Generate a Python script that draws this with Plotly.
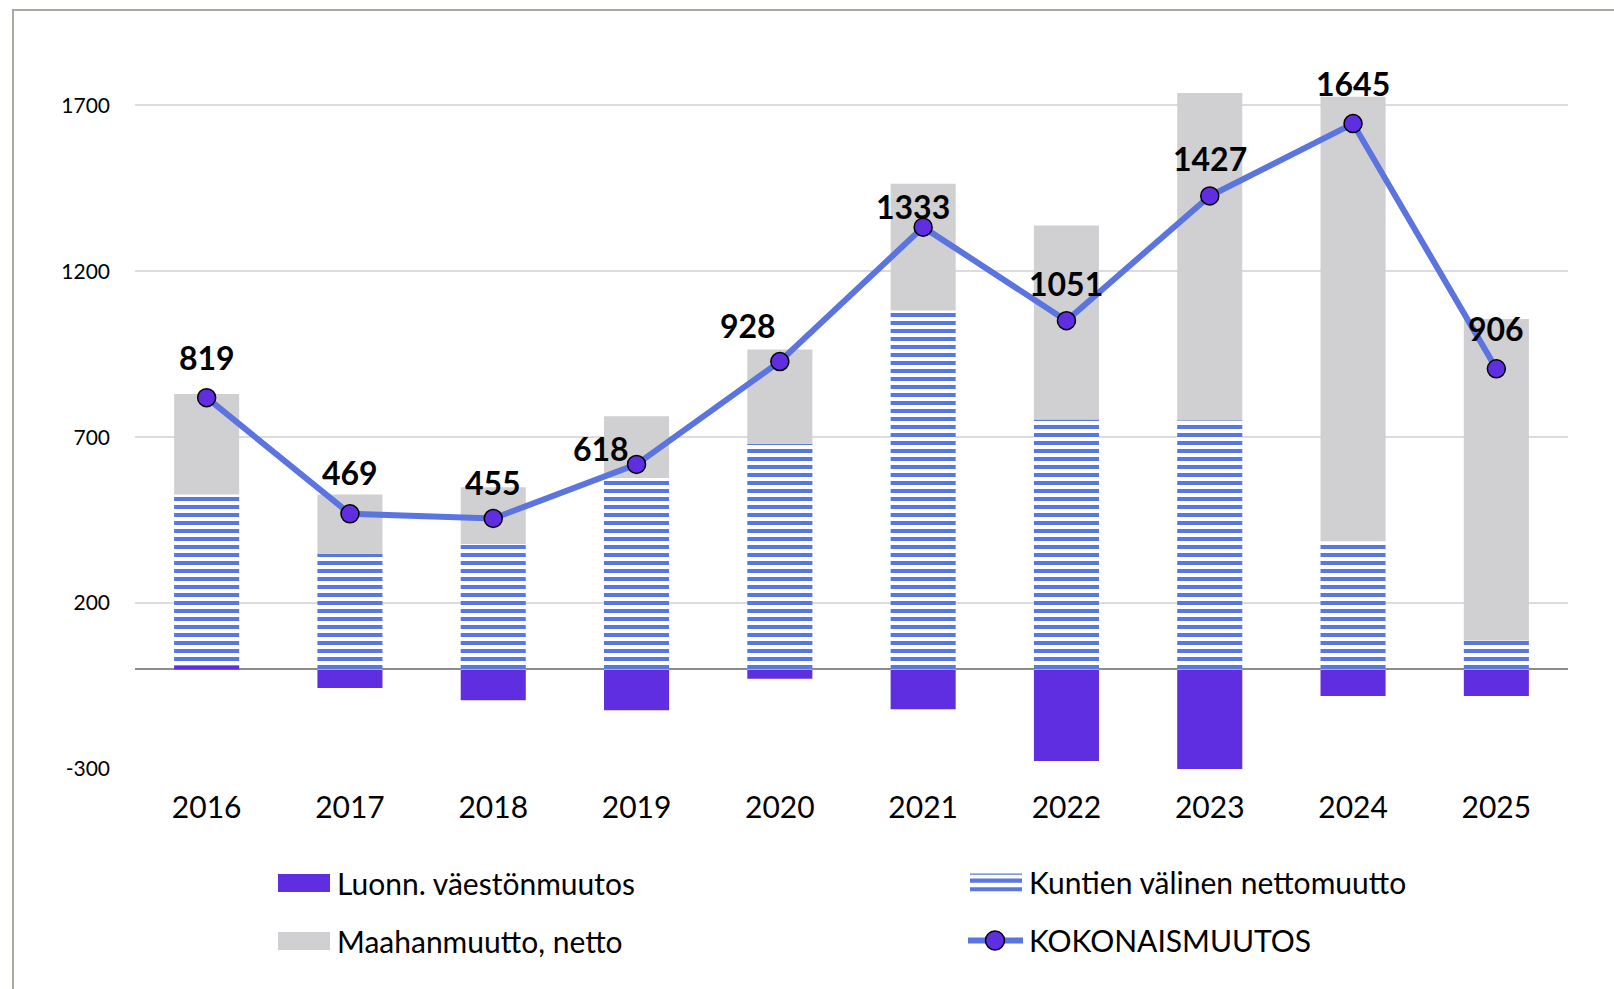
import plotly.graph_objects as go

# ---------------- data ----------------
years = ["2016", "2017", "2018", "2019", "2020", "2021", "2022", "2023", "2024", "2025"]
natural_change = [12, -56, -93, -123, -28, -120, -276, -304, -80, -80]
municipal_net = [515, 349, 378, 577, 680, 1082, 753, 751, 386, 87]
immigration_net = [303, 178, 171, 186, 284, 382, 585, 986, 1340, 969]
total_change = [819, 469, 455, 618, 928, 1333, 1051, 1427, 1645, 906]
y_ticks = [-300, 200, 700, 1200, 1700]
y_tick_labels = ["-300", "200", "700", "1200", "1700"]

series_names = ["Luonn. väestönmuutos", "Kuntien välinen nettomuutto",
                "Maahanmuutto, netto", "KOKONAISMUUTOS"]

# ---------------- styles ----------------
PURPLE = "#5E2EE0"
STRIPE = "#5A76E0"
GRAY = "#D0CFD1"
LINE = "#5B74DF"
FONT = "Lato"

W, H = 1614, 989
ML, MR, MT, MB = 135, 46, 39, 220
PW, PH = W - ML - MR, H - MT - MB


def px(x):
    return (x - ML) / PW


def py(y):
    return (H - MB - y) / PH


fig = go.Figure()

fig.add_trace(go.Bar(
    x=years, y=natural_change, name=series_names[0],
    marker=dict(color=PURPLE, line=dict(width=0)), showlegend=False))
fig.add_trace(go.Bar(
    x=years, y=municipal_net, name=series_names[1],
    marker=dict(color="white", line=dict(width=0),
                pattern=dict(shape="-", size=8, solidity=0.5, fgopacity=1,
                             fgcolor=STRIPE, bgcolor="white", fillmode="overlay")),
    showlegend=False))
fig.add_trace(go.Bar(
    x=years, y=immigration_net, name=series_names[2],
    marker=dict(color=GRAY, line=dict(width=0)), showlegend=False))
fig.add_trace(go.Scatter(
    x=years, y=total_change, name=series_names[3], mode="lines+markers",
    line=dict(color=LINE, width=6),
    marker=dict(color=PURPLE, size=18, line=dict(color="black", width=1.5)),
    showlegend=False))

# data labels (offsets in pixels); x given as category index
label_dx = [0, 0, 0, -36, -32, -10, 0, 0, 0, 0]
label_dy = [40, 41, 36, 16, 36, 21, 37, 37, 40, 40]
for i, (v, dx, dy) in enumerate(zip(total_change, label_dx, label_dy)):
    fig.add_annotation(x=i, y=v, xref="x", yref="y", text=f"<b>{v}</b>",
                       showarrow=False, xshift=dx, yshift=dy,
                       xanchor="center", yanchor="middle",
                       font=dict(family=FONT, size=32, color="black"))

shapes = []
# outer frame
shapes.append(dict(type="rect", xref="paper", yref="paper",
                   x0=px(13), x1=px(1700), y0=py(1100), y1=py(10),
                   line=dict(color="#A9AAA0", width=2), fillcolor="rgba(0,0,0,0)",
                   layer="below"))

# custom legend
LEG_FONT = dict(family=FONT, size=30, color="black")
shapes.append(dict(type="rect", xref="paper", yref="paper",
                   x0=px(278), x1=px(330), y0=py(892), y1=py(874),
                   line=dict(width=0), fillcolor=PURPLE))
shapes.append(dict(type="rect", xref="paper", yref="paper",
                   x0=px(278), x1=px(330), y0=py(950), y1=py(932),
                   line=dict(width=0), fillcolor=GRAY))
for (a, b) in [(873.5, 874.8), (878.5, 882.7), (887.3, 891.3)]:
    shapes.append(dict(type="rect", xref="paper", yref="paper",
                       x0=px(970), x1=px(1022), y0=py(b), y1=py(a),
                       line=dict(width=0), fillcolor=STRIPE))
shapes.append(dict(type="line", xref="paper", yref="paper",
                   x0=px(968), x1=px(1023), y0=py(940.5), y1=py(940.5),
                   line=dict(color=LINE, width=6)))
shapes.append(dict(type="circle", xref="paper", yref="paper",
                   x0=px(985.5), x1=px(1004.5), y0=py(950), y1=py(931),
                   line=dict(color="black", width=1.5), fillcolor=PURPLE))

legend_text = [(335, 883, series_names[0]), (1027, 882, series_names[1]),
               (335, 941, series_names[2]), (1027, 940, series_names[3])]
for x, y, t in legend_text:
    fig.add_annotation(xref="paper", yref="paper", x=px(x), y=py(y), text=t,
                       showarrow=False, xanchor="left", yanchor="middle",
                       font=LEG_FONT)

fig.update_layout(
    width=W, height=H,
    margin=dict(l=ML, r=MR, t=MT, b=MB),
    paper_bgcolor="white", plot_bgcolor="white",
    barmode="relative", bargap=0.546,
    shapes=shapes,
    showlegend=False,
    font=dict(family=FONT, color="black"),
)
fig.update_xaxes(type="category", range=[-0.5, len(years) - 0.5],
                 showline=False, showgrid=False, ticks="",
                 tickfont=dict(family=FONT, size=30, color="black"),
                 ticklabelstandoff=18)
fig.update_yaxes(range=[-300, 1900], tickmode="array",
                 tickvals=y_ticks, ticktext=y_tick_labels,
                 showgrid=True, gridcolor="#DCDCDC", gridwidth=1.5,
                 zeroline=True, zerolinecolor="#8C8C8C", zerolinewidth=2,
                 showline=False, ticks="",
                 tickfont=dict(family=FONT, size=21, color="black"),
                 ticklabelstandoff=24)

fig.write_html("out.html")
